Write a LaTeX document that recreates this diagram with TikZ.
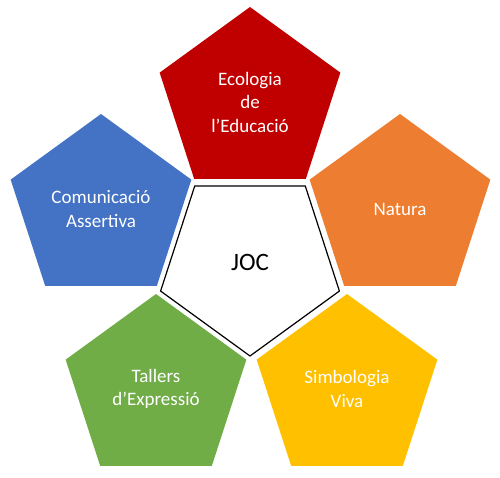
\documentclass[tikz,border=0pt]{standalone}
\usepackage{fontspec}
\setmainfont{Carlito}
\usetikzlibrary{shapes.geometric}
\definecolor{cred}{HTML}{C00000}
\definecolor{cblue}{HTML}{4472C4}
\definecolor{corange}{HTML}{ED7D31}
\definecolor{cgreen}{HTML}{70AD47}
\definecolor{cyellow}{HTML}{FFC000}
\begin{document}
\begin{tikzpicture}[x=1pt,y=-1pt,
  petal/.style={regular polygon, regular polygon sides=5, inner sep=0pt,
    minimum size=190pt, text=white, align=center,
    font=\fontsize{19}{23.5}\selectfont},
  core/.style={regular polygon, regular polygon sides=5, shape border rotate=180,
    inner sep=0pt, minimum size=188pt, draw=black, line width=1.2pt, fill=white,
    font=\fontsize{25}{28}\selectfont}]
\useasboundingbox (0,0) rectangle (500,478);
\node[core] (joc) at (250,262) {JOC};
\node[petal, fill=cred] (eco) at (250,102) {Ecologia\\de\\l’Educació};
\node[petal, fill=cblue] (com) at (101,209) {Comunicació\\Assertiva};
\node[petal, fill=corange] (nat) at (400,209) {Natura};
\node[petal, fill=cgreen] (tal) at (156,389) {Tallers\\d’Expressió};
\node[petal, fill=cyellow] (sim) at (347,389) {Simbologia\\Viva};
\end{tikzpicture}
\end{document}
